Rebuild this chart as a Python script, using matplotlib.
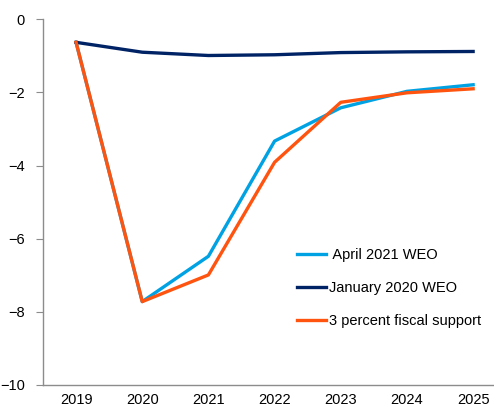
import matplotlib.pyplot as plt

plt.rcParams['font.family'] = ['Liberation Sans', 'DejaVu Sans']

anos = ['2019', '2020', '2021', '2022', '2023', '2024', '2025']
abril_2021 = [-0.63, -7.72, -6.48, -3.33, -2.42, -1.97, -1.79]
janeiro_2020 = [-0.63, -0.90, -0.99, -0.97, -0.91, -0.89, -0.88]
apoio_fiscal = [-0.63, -7.72, -6.99, -3.91, -2.27, -2.01, -1.90]

x = list(range(len(anos)))

fig = plt.figure(figsize=(4.94, 4.08), dpi=100)
ax = fig.add_axes([0.087, 0.0564, 0.9136, 0.8963])

ax.plot(x, abril_2021, color='#00A2E3', lw=2.4, label=' April 2021 WEO')
ax.plot(x, janeiro_2020, color='#002366', lw=2.4, label='January 2020 WEO')
ax.plot(x, apoio_fiscal, color='#FF5410', lw=2.4, label='3 percent fiscal support')

ax.set_xlim(-0.5, 6.32)
ax.set_ylim(-10, 0)
ax.set_yticks([0, -2, -4, -6, -8, -10])
ax.set_xticks(x)
ax.set_xticklabels(anos)

for s in ['top', 'right']:
    ax.spines[s].set_visible(False)
for s in ['left', 'bottom']:
    ax.spines[s].set_color('#8c8c8c')
    ax.spines[s].set_linewidth(1.0)
ax.tick_params(axis='y', length=5, color='#8c8c8c', labelsize=10.5, pad=8)
ax.tick_params(axis='x', length=0, labelsize=10.5, pad=6)

ax.legend(loc='upper left', bbox_to_anchor=(0.601, 0.392), bbox_transform=fig.transFigure,
          frameon=False, fontsize=10.5, handlelength=2.0, handletextpad=0.2,
          labelspacing=1.3, borderpad=0, borderaxespad=0)

fig.savefig('out.png', dpi=100)
